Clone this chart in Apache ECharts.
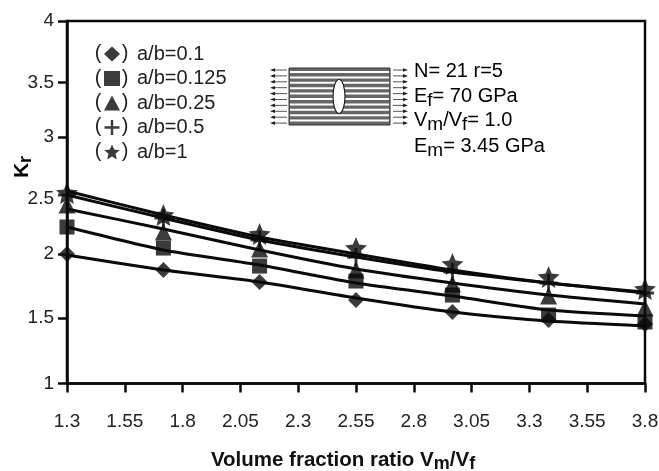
<!DOCTYPE html>
<html><head><meta charset="utf-8">
<script src="https://cdn.jsdelivr.net/npm/echarts@6/dist/echarts.min.js"></script>
<style>html,body{margin:0;padding:0;background:#fff}#c{width:659px;height:471px}</style>
</head><body><div id="c"></div>
<script>
const xTicks = [1.3,1.55,1.8,2.05,2.3,2.55,2.8,3.05,3.3,3.55,3.8];
const xPoints = [1.3,1.717,2.133,2.55,2.967,3.383,3.8];
// The reference's y ticks are unevenly spaced: these are where each label sits on a linear 1-4 scale.
const yTickLabels = ['1','1.5','2','2.5','3','3.5','4'];
const yTickValues = [1,1.54,2.07,2.53,3.04,3.49,4];
// No tick stroke is visible at the 2.5 label in the reference.
const yTickMarks = [1,1.54,2.07,3.04,3.49,4];
const seriesNames = ['a/b=0.1','a/b=0.125','a/b=0.25','a/b=0.5','a/b=1'];
// measured markers
const markD = [2.072,1.939,1.840,1.691,1.592,1.526,1.492];
const markS = [2.295,2.121,1.972,1.848,1.732,1.567,1.509];
const markT = [2.477,2.254,2.113,1.939,1.823,1.724,1.625];
const markP = [2.560,2.369,2.188,2.047,1.923,1.832,1.749];
const markA = [2.577,2.394,2.237,2.121,1.989,1.881,1.782];
// fitted curves
const fitD = [2.063,1.939,1.840,1.708,1.592,1.517,1.476];
const fitS = [2.295,2.105,1.981,1.832,1.724,1.608,1.559];
const fitT = [2.444,2.279,2.105,1.948,1.832,1.732,1.658];
const fitP = [2.560,2.369,2.188,2.047,1.923,1.832,1.749];
const fitA = [2.593,2.394,2.212,2.072,1.939,1.832,1.757];

const ink = '#0a0a0a';
const textInk = '#222';
const starPath = 'path://M50 0L64 33L100 37L73 60L81 97L50 78L19 97L27 60L0 37L36 33Z';
const plusPath = 'path://M42 0H58V42H100V58H58V100H42V58H0V42H42Z';
const symbols = ['diamond','rect','triangle',plusPath,starPath];
const symbolSizes = [16,15,17,18,22];
const marks = [markD,markS,markT,markP,markA];
const fits = [fitD,fitS,fitT,fitP,fitA];
const pairs = a => a.map((v,i)=>[xPoints[i],v]);

const series = [];
fits.forEach(f=>series.push({type:'line',data:pairs(f),symbol:'none',smooth:0.2,silent:true,
  lineStyle:{color:ink,width:3},z:3}));
marks.forEach((m,i)=>series.push({type:'scatter',name:seriesNames[i],data:pairs(m),symbol:symbols[i],
  symbolSize:symbolSizes[i],itemStyle:{color:ink},z:4,clip:false}));

// inset schematic
const inset = [];
const bx=289,bw=101,by=68,bh=57;
inset.push({type:'rect',shape:{x:bx,y:by,width:bw,height:bh},style:{fill:'#666',stroke:'#333',lineWidth:1}});
for(let i=0;i<10;i++){
  inset.push({type:'rect',shape:{x:bx+1,y:by+3+i*5.4,width:bw-2,height:2},style:{fill:'#fff'}});
}
inset.push({type:'ellipse',shape:{cx:339,cy:96.5,rx:6,ry:17},style:{fill:'#fff',stroke:'#222',lineWidth:1.2}});
for(let i=0;i<10;i++){
  const y=by+2+i*5.9;
  inset.push({type:'line',shape:{x1:272,y1:y,x2:287,y2:y},style:{stroke:'#555',lineWidth:1}});
  inset.push({type:'polygon',shape:{points:[[270,y],[275,y-1.8],[275,y+1.8]]},style:{fill:'#222'}});
  inset.push({type:'line',shape:{x1:393,y1:y,x2:406,y2:y},style:{stroke:'#555',lineWidth:1}});
  inset.push({type:'polygon',shape:{points:[[408,y],[403,y-1.8],[403,y+1.8]]},style:{fill:'#222'}});
}
const rich={n:{fontSize:20,fontFamily:'Liberation Sans',color:textInk},
  s:{fontSize:19,fontFamily:'Liberation Sans',color:textInk,padding:[9,0,0,0]}};
const insetText=[['{n|N= 21 r=5}',71],['{n|E}{s|f}{n|= 70 GPa}',96],['{n|V}{s|m}{n|/V}{s|f}{n|= 1.0}',120],['{n|E}{s|m}{n|= 3.45 GPa}',146]];
insetText.forEach(t=>inset.push({type:'text',x:414,y:t[1],style:{text:t[0],rich:rich,verticalAlign:'middle',align:'left'}}));
// legend parentheses
[53,78,102,126,151].forEach(y=>{
  inset.push({type:'text',x:98,y:y,style:{text:'(',font:'20px Liberation Sans',fill:textInk,align:'center',verticalAlign:'middle'}});
  inset.push({type:'text',x:125,y:y,style:{text:')',font:'20px Liberation Sans',fill:textInk,align:'center',verticalAlign:'middle'}});
});
inset.push({type:'text',x:22,y:167,rotation:Math.PI/2,style:{text:'{a|K}{b|r}',align:'center',verticalAlign:'middle',
  rich:{a:{fontSize:21,fontWeight:'bold',fontFamily:'Liberation Sans',color:'#111'},
        b:{fontSize:18,fontWeight:'bold',fontFamily:'Liberation Sans',color:'#111',padding:[8,0,0,0]}}}});

const chart=echarts.init(document.getElementById('c'),null,{renderer:'canvas'});
chart.setOption({
  animation:false,backgroundColor:'#fff',
  textStyle:{fontFamily:'Liberation Sans'},
  grid:{left:67,right:14,top:21,bottom:87.5,outerBoundsMode:'none',show:true,borderColor:ink,borderWidth:2.5,backgroundColor:'transparent'},
  legend:{show:true,orient:'vertical',left:99,top:39,itemWidth:16,itemHeight:15,itemGap:4.5,
    data:seriesNames,textStyle:{fontSize:20,color:textInk,fontFamily:'Liberation Sans',padding:[0,0,0,12]}},
  xAxis:{type:'value',min:1.3,max:3.8,
    axisLine:{show:true,onZero:false,lineStyle:{color:ink,width:2.5}},
    axisTick:{show:true,length:9,customValues:xTicks,lineStyle:{color:ink,width:2.5}},
    axisLabel:{customValues:xTicks,margin:29,fontSize:19,color:textInk,hideOverlap:false,showMinLabel:true,showMaxLabel:true},
    splitLine:{show:false},
    name:'{a|Volume fraction ratio V}{b|m}{a|/V}{b|f}',nameLocation:'middle',nameGap:64,
    nameTextStyle:{padding:[0,26,0,0],rich:{a:{fontSize:20.5,fontWeight:'bold',color:'#111'},b:{fontSize:18,fontWeight:'bold',color:'#111',padding:[8,0,0,0]}}}},
  yAxis:{type:'value',min:1,max:4,
    axisLine:{show:true,onZero:false,lineStyle:{color:ink,width:2.5}},
    axisTick:{show:true,length:9,customValues:yTickMarks,lineStyle:{color:ink,width:2.5}},
    axisLabel:{customValues:yTickValues,margin:13,fontSize:19,color:textInk,showMinLabel:true,showMaxLabel:true,
      formatter:v=>yTickLabels[yTickValues.indexOf(v)]},
    splitLine:{show:false}},
  graphic:inset,
  series:series
});
</script></body></html>
